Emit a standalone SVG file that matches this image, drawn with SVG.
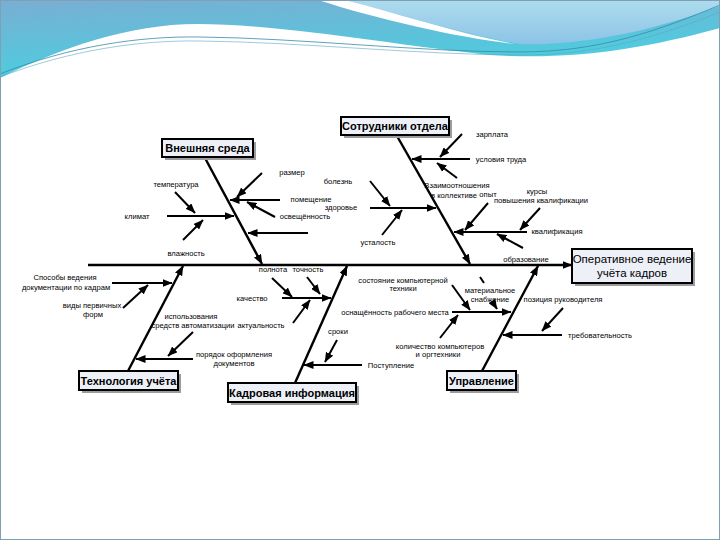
<svg xmlns="http://www.w3.org/2000/svg" width="720" height="540" viewBox="0 0 720 540">
<defs>
<linearGradient id="bg" x1="0" y1="0" x2="0.3" y2="1">
<stop offset="0" stop-color="#7aaed3"/>
<stop offset="1" stop-color="#3fd6e2"/>
</linearGradient>
<linearGradient id="lt" x1="0" y1="0" x2="0" y2="1">
<stop offset="0" stop-color="#aedcee"/>
<stop offset="1" stop-color="#8cc3e6"/>
</linearGradient>
<marker id="ah" markerUnits="userSpaceOnUse" markerWidth="10" markerHeight="8" refX="9.5" refY="4" orient="auto">
<path d="M0,0 L10,4 L0,8 Z" fill="#000"/>
</marker>
</defs>
<style>
.c{stroke:#000;stroke-width:2;fill:none;marker-end:url(#ah)}
.b{stroke:#000;stroke-width:2.4;fill:none;marker-end:url(#ah)}
.l{font-family:"Liberation Sans",Arial,sans-serif;font-size:7.6px;fill:#000;text-anchor:middle}
.bx{fill:#eef0f8;stroke:#000;stroke-width:2}
.sh{fill:#9c9c9c}
.t{font-family:"Liberation Sans",Arial,sans-serif;font-size:11px;font-weight:bold;fill:#000;text-anchor:middle}
.e{font-family:"Liberation Sans",Arial,sans-serif;font-size:11.5px;fill:#000;text-anchor:middle}
</style>
<rect width="720" height="540" fill="#fff"/>
<g id="decor">
<rect x="0" y="0" width="720" height="95" fill="url(#bg)"/>
<path d="M345,0 L720,0 L720,6 C660,28 590,46 520,44 C460,34 400,14 345,0 Z" fill="url(#lt)"/>
<path d="M318,0 L345,0 C400,14 460,34 515,44 C460,38 380,20 318,0 Z" fill="#fff"/>
<path d="M0,78 C60,48 130,24 197,24 C280,24 400,46 490,55 C570,60 640,50 720,28 L720,540 L0,540 Z" fill="#fff"/>
<path d="M0,74 C70,46 140,36 200,37 C300,38 420,52 520,52 C600,52 660,30 720,5" fill="none" stroke="#3a8aa6" stroke-width="0.8"/>
<path d="M0,77 C70,50 140,40 200,41 C300,42 420,55 520,55 C600,55 660,36 720,12" fill="none" stroke="#5aa8c0" stroke-width="0.6"/>
<rect x="0.5" y="0.5" width="719" height="539" fill="none" stroke="#7f9fb2" stroke-width="1"/>
</g>
<g id="connectors">
<path class="b" d="M88,265 L572,265"/>
<path class="b" d="M205,158 L262,264"/>
<path class="b" d="M397,136 L470,264"/>
<path class="b" d="M128,371 L183,266"/>
<path class="b" d="M295,383 L347,266"/>
<path class="b" d="M482,371 L538,266"/>
<path class="c" d="M167,216 L234,216"/>
<path class="c" d="M175,192 L195,213"/>
<path class="c" d="M183,240 L203,220"/>
<path class="c" d="M280,200 L230,200"/>
<path class="c" d="M262,173 L237,197"/>
<path class="c" d="M275,217 L247,202"/>
<path class="c" d="M308,233 L248,233"/>
<path class="c" d="M470,159 L412,159"/>
<path class="c" d="M462,134 L440,157"/>
<path class="c" d="M457,178 L437,163"/>
<path class="c" d="M370,208 L436,208"/>
<path class="c" d="M370,181 L390,206"/>
<path class="c" d="M382,235 L402,210"/>
<path class="c" d="M527,232 L454,232"/>
<path class="c" d="M488,203 L465,230"/>
<path class="c" d="M540,208 L520,230"/>
<path class="c" d="M523,248 L497,234"/>
<path class="c" d="M112,283 L172,283"/>
<path class="c" d="M123,308 L148,285"/>
<path class="c" d="M193,359 L136,359"/>
<path class="c" d="M193,332 L168,356"/>
<path class="c" d="M282,298 L331,298"/>
<path class="c" d="M272,278 L292,297"/>
<path class="c" d="M307,277 L320,294"/>
<path class="c" d="M293,323 L310,300"/>
<path class="c" d="M362,365 L304,365"/>
<path class="c" d="M337,340 L325,362"/>
<path class="c" d="M452,312 L511,312"/>
<path class="c" d="M452,285 L470,310"/>
<path class="c" d="M440,338 L458,315"/>
<path d="M480,277 L484,283" stroke="#000" stroke-width="2" fill="none"/>
<path class="c" d="M492,301 L497,309"/>
<path class="c" d="M562,335 L503,335"/>
<path class="c" d="M563,308 L542,331"/>
</g>
<g id="effect">
<rect class="sh" x="575" y="252" width="120" height="34"/>
<rect class="bx" x="572" y="249" width="120" height="34"/>
<text class="e" x="632" y="263">Оперативное ведение</text>
<text class="e" x="632" y="277">учёта кадров</text>
</g>
<g id="cat-vneshnyaya">
<rect class="sh" x="165" y="142" width="91" height="18"/>
<rect class="bx" x="162" y="139" width="91" height="18"/>
<text class="t" x="207.5" y="152">Внешняя среда</text>
</g>
<g id="cat-sotrudniki">
<rect class="sh" x="344" y="120" width="108" height="18"/>
<rect class="bx" x="341" y="117" width="108" height="18"/>
<text class="t" x="395" y="130">Сотрудники отдела</text>
</g>
<g id="cat-tehnologiya">
<rect class="sh" x="82" y="374" width="99" height="19"/>
<rect class="bx" x="79" y="371" width="99" height="19"/>
<text class="t" x="128.5" y="384.5">Технология учёта</text>
</g>
<g id="cat-kadrovaya">
<rect class="sh" x="231" y="386" width="128" height="19"/>
<rect class="bx" x="228" y="383" width="128" height="19"/>
<text class="t" x="292" y="396.5">Кадровая информация</text>
</g>
<g id="cat-upravlenie">
<rect class="sh" x="450" y="374" width="69" height="19"/>
<rect class="bx" x="447" y="371" width="69" height="19"/>
<text class="t" x="481.5" y="384.5">Управление</text>
</g>
<g id="labels">
<text class="l" x="176" y="187">температура</text>
<text class="l" x="137" y="219">климат</text>
<text class="l" x="186" y="256">влажность</text>
<text class="l" x="292" y="175">размер</text>
<text class="l" x="311" y="202">помещение</text>
<text class="l" x="305" y="219">освещённость</text>
<text class="l" x="338" y="184">болезнь</text>
<text class="l" x="341" y="210">здоровье</text>
<text class="l" x="378" y="245">усталость</text>
<text class="l" x="492" y="137">зарплата</text>
<text class="l" x="501" y="162">условия труда</text>
<text class="l" x="457" y="188">Взаимоотношения</text>
<text class="l" x="454" y="198">в коллективе</text>
<text class="l" x="488" y="197">опыт</text>
<text class="l" x="537" y="194">курсы</text>
<text class="l" x="541" y="203">повышения квалификации</text>
<text class="l" x="557" y="234">квалификация</text>
<text class="l" x="526" y="262">образование</text>
<text class="l" x="65" y="280">Способы ведения</text>
<text class="l" x="66" y="290">документации по кадрам</text>
<text class="l" x="92" y="308">виды первичных</text>
<text class="l" x="93" y="317">форм</text>
<text class="l" x="191" y="319">использования</text>
<text class="l" x="193" y="328">средств автоматизации</text>
<text class="l" x="261" y="328">актуальность</text>
<text class="l" x="234" y="357">порядок оформления</text>
<text class="l" x="234" y="366">документов</text>
<text class="l" x="273" y="272">полнота</text>
<text class="l" x="308" y="272">точность</text>
<text class="l" x="252" y="301">качество</text>
<text class="l" x="338" y="334">сроки</text>
<text class="l" x="391" y="368">Поступление</text>
<text class="l" x="403" y="283">состояние компьютерной</text>
<text class="l" x="403" y="291">техники</text>
<text class="l" x="490" y="293">материальное</text>
<text class="l" x="490" y="302">снабжение</text>
<text class="l" x="563" y="302">позиция руководителя</text>
<text class="l" x="395" y="315">оснащённость рабочего места</text>
<text class="l" x="440" y="349">количество компьютеров</text>
<text class="l" x="438" y="357">и оргтехники</text>
<text class="l" x="600" y="338">требовательность</text>
</g>
</svg>
